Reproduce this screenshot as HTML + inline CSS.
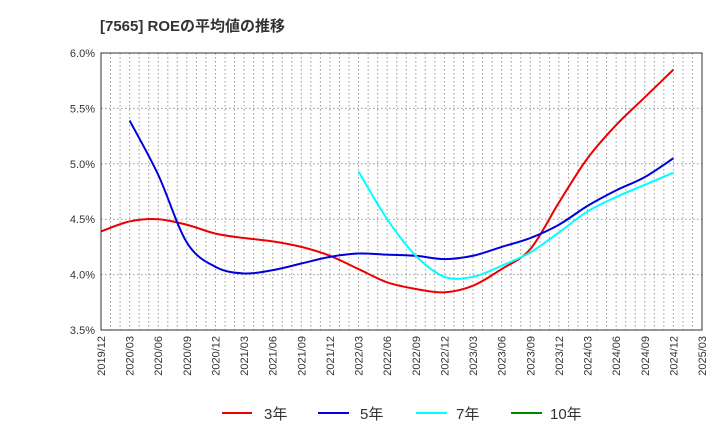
<!DOCTYPE html>
<html><head><meta charset="utf-8"><style>
body{margin:0;background:#fff;font-family:"Liberation Sans","Noto Sans CJK JP",sans-serif}
</style></head><body>
<svg id="c" width="720" height="440" xmlns="http://www.w3.org/2000/svg">
<text x="100" y="31" font-size="15" font-weight="bold" fill="#333">[7565]  ROEの平均値の推移</text>
<g id="grid"></g><g id="series"></g><g id="axes"></g>
<g font-size="15" fill="#333">
<g><line x1="222" y1="413" x2="252" y2="413" stroke="#e00" stroke-width="2"/><text x="264" y="419">3年</text></g>
<g><line x1="318" y1="413" x2="349" y2="413" stroke="#00d" stroke-width="2"/><text x="360" y="419">5年</text></g>
<g><line x1="416" y1="413" x2="447" y2="413" stroke="#0ff" stroke-width="2"/><text x="456" y="419">7年</text></g>
<g><line x1="511" y1="413" x2="542" y2="413" stroke="#080" stroke-width="2"/><text x="550" y="419">10年</text></g>
</g>
</svg>
<script>
const categories=["2019/12","2020/03","2020/06","2020/09","2020/12","2021/03","2021/06","2021/09","2021/12","2022/03","2022/06","2022/09","2022/12","2023/03","2023/06","2023/09","2023/12","2024/03","2024/06","2024/09","2024/12","2025/03"];
const yTicks=[3.5,4.0,4.5,5.0,5.5,6.0];
const s3=[4.39,4.48,4.50,4.45,4.37,4.33,4.30,4.25,4.17,4.05,3.93,3.87,3.84,3.90,4.05,4.23,4.65,5.05,5.35,5.60,5.85,null];
const s5=[null,5.39,4.90,4.29,4.07,4.01,4.04,4.10,4.16,4.19,4.18,4.17,4.14,4.17,4.25,4.33,4.45,4.62,4.76,4.88,5.05,null];
const s7=[null,null,null,null,null,null,null,null,null,4.93,4.50,4.17,3.98,3.98,4.08,4.20,4.38,4.57,4.70,4.81,4.92,null];
const s10=[];
const L=101,R=702,T=53,B=330,NS="http://www.w3.org/2000/svg";
const xs=i=>L+i*(R-L)/(categories.length-1);
const ys=v=>B-(v-3.5)/(2.5)*(B-T);
function mk(t,a,p){const e=document.createElementNS(NS,t);for(const k in a)e.setAttribute(k,a[k]);p.appendChild(e);return e;}
const g=document.getElementById('grid'),ax=document.getElementById('axes'),sg=document.getElementById('series');
for(let m=1;m<(categories.length-1)*3;m++){const x=L+m*(R-L)/((categories.length-1)*3);
const ln=mk('line',{x1:x,x2:x,y1:T,y2:B,stroke:'#999','stroke-dasharray':'1.5,2.5','stroke-width':1},g);

}
yTicks.forEach(v=>{const y=ys(v);
const ln=mk('line',{x1:L,x2:R,y1:y,y2:y,stroke:'#999','stroke-dasharray':'1.5,2.5'},g);


const t=mk('text',{x:L-6,y:y+4,'text-anchor':'end','font-size':11,fill:'#333'},ax);t.textContent=v.toFixed(1)+'%';

});
categories.forEach((c,i)=>{const x=xs(i);
const t=mk('text',{transform:`translate(${x+4},${B+6}) rotate(-90)`,'text-anchor':'end','font-size':11,fill:'#333'},ax);t.textContent=c;

});
const fr=mk('rect',{x:L,y:T,width:R-L,height:B-T,fill:'none',stroke:'#333'},ax);


function path(arr,col,name){const p=[];arr.forEach((v,i)=>{if(v!=null)p.push([xs(i),ys(v)])});if(p.length<2)return;
let d=`M${p[0][0]},${p[0][1]}`;
for(let i=0;i<p.length-1;i++){const p0=p[i-1]||p[i],p1=p[i],p2=p[i+1],p3=p[i+2]||p2;
d+=`C${p1[0]+(p2[0]-p0[0])/6},${p1[1]+(p2[1]-p0[1])/6} ${p2[0]-(p3[0]-p1[0])/6},${p2[1]-(p3[1]-p1[1])/6} ${p2[0]},${p2[1]}`;}
const e=mk('path',{d,fill:'none',stroke:col,'stroke-width':2},sg);

}
path(s3,'#e00','series-3y');path(s5,'#00d','series-5y');path(s7,'#0ff','series-7y');path(s10,'#080','series-10y');
</script>
</body></html>
